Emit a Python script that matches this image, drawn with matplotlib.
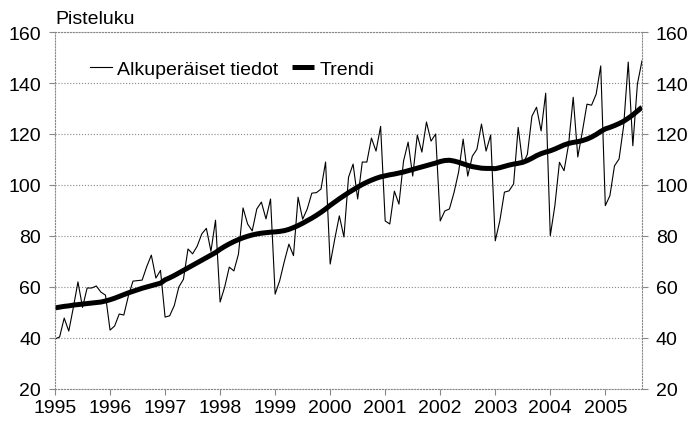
import matplotlib.pyplot as plt
import numpy as np

plt.rcParams['font.family'] = ['Liberation Sans Narrow', 'Liberation Sans', 'DejaVu Sans']

# kuukausiarvot 1/1995 - 9/2005
original = [
    39.6, 40.4, 47.8, 42.7, 52.0, 62.0, 52.0, 59.6, 59.6, 60.4, 58.0, 56.8,       # 1995
    43.1, 44.7, 49.4, 49.0, 56.5, 62.3, 62.5, 62.7, 68.0, 72.5, 63.5, 66.5,       # 1996
    48.2, 48.7, 52.7, 60.0, 63.0, 74.9, 73.0, 76.0, 80.8, 83.0, 74.0, 86.2,       # 1997
    54.1, 60.0, 67.8, 66.3, 72.9, 91.0, 84.7, 82.0, 90.6, 93.3, 86.7, 94.5,       # 1998
    57.2, 62.5, 70.0, 76.8, 72.3, 95.2, 86.6, 90.6, 96.8, 97.0, 98.4, 109.0,      # 1999
    69.0, 78.8, 87.9, 79.6, 103.0, 108.2, 94.5, 109.0, 109.0, 118.4, 113.3, 123.0,  # 2000
    85.9, 84.7, 97.6, 92.5, 109.4, 116.8, 103.5, 119.6, 112.9, 124.7, 117.2, 120.0,  # 2001
    85.9, 89.8, 90.6, 97.0, 105.0, 118.0, 103.5, 111.3, 114.0, 123.9, 113.3, 119.6,  # 2002
    78.1, 86.0, 97.2, 97.7, 100.4, 122.6, 108.2, 112.0, 127.0, 130.5, 121.2, 136.0,  # 2003
    80.1, 91.9, 108.9, 105.6, 116.0, 134.4, 111.0, 121.0, 131.7, 131.3, 135.6, 146.7,  # 2004
    91.9, 95.8, 107.5, 110.2, 123.2, 148.2, 115.4, 139.6, 148.7,                  # 2005
]

trend = [
    51.8, 52.1, 52.4, 52.6, 52.9, 53.1, 53.3, 53.5, 53.7, 53.9, 54.1, 54.5,
    55.0, 55.6, 56.3, 57.0, 57.7, 58.3, 58.9, 59.5, 60.0, 60.5, 61.0, 61.5,
    62.8, 63.6, 64.5, 65.5, 66.5, 67.5, 68.5, 69.5, 70.5, 71.5, 72.5, 73.5,
    74.8, 75.9, 76.9, 77.8, 78.6, 79.3, 79.9, 80.4, 80.8, 81.1, 81.3, 81.5,
    81.6, 81.8, 82.1, 82.6, 83.3, 84.1, 85.0, 86.0, 87.0, 88.1, 89.3, 90.6,
    92.0, 93.3, 94.6, 95.8, 97.0, 98.1, 99.2, 100.2, 101.1, 101.9, 102.6, 103.2,
    103.6, 104.0, 104.3, 104.7, 105.1, 105.6, 106.1, 106.6, 107.1, 107.6, 108.1, 108.6,
    109.2, 109.6, 109.7, 109.4, 108.9, 108.3, 107.7, 107.2, 106.9, 106.6, 106.5, 106.5,
    106.4, 106.8, 107.3, 107.8, 108.2, 108.5, 108.9, 109.6, 110.5, 111.5, 112.3, 112.9,
    113.4, 114.1, 114.9, 115.7, 116.3, 116.7, 117.0, 117.4, 118.0, 118.8, 119.8, 121.0,
    122.0, 122.6, 123.3, 124.1, 125.0, 126.2, 127.5, 129.0, 130.5,
]

years = list(range(1995, 2006))
yticks = [20, 40, 60, 80, 100, 120, 140, 160]

t = 1995 + np.arange(len(original)) / 12.0

fig = plt.figure(figsize=(6.93, 4.27), dpi=100)
ax = fig.add_axes([0.0794, 0.0867, 0.847, 0.836])

ax.plot(t, original, color='black', linewidth=0.8, label='Alkuperäiset tiedot')
ax.plot(t, trend, color='black', linewidth=3.6, solid_capstyle='butt', label='Trendi')

ax.set_xlim(1995, t[-1])
ax.set_ylim(20, 160)
ax.set_xticks(years)
ax.set_xticklabels([str(y) for y in years])
ax.set_yticks(yticks)
ax.yaxis.grid(True, linestyle=':', color='#888888', linewidth=0.8)

for side in ['left', 'right', 'bottom', 'top']:
    ax.spines[side].set_linestyle(':')
    ax.spines[side].set_color('#888888')
    ax.spines[side].set_linewidth(0.8)

ax.tick_params(axis='both', labelsize=14, length=4, color='#888888', width=0.8)
ax.tick_params(axis='x', pad=3)
ax.tick_params(axis='y', pad=6)

ax2 = ax.twinx()
ax2.set_ylim(20, 160)
ax2.set_yticks(yticks)
ax2.tick_params(axis='y', labelsize=14, length=4, color='#888888', width=0.8, pad=6)
for side in ['left', 'right', 'bottom', 'top']:
    ax2.spines[side].set_visible(False)

fig.text(0.0794, 0.955, 'Pisteluku', fontsize=14, ha='left', va='center')

ax.legend(loc='upper left', bbox_to_anchor=(0.03, 0.97), ncol=2, frameon=False,
          fontsize=14, handlelength=1.1, handletextpad=0.3, columnspacing=0.7)

fig.savefig('out.png', dpi=100)
